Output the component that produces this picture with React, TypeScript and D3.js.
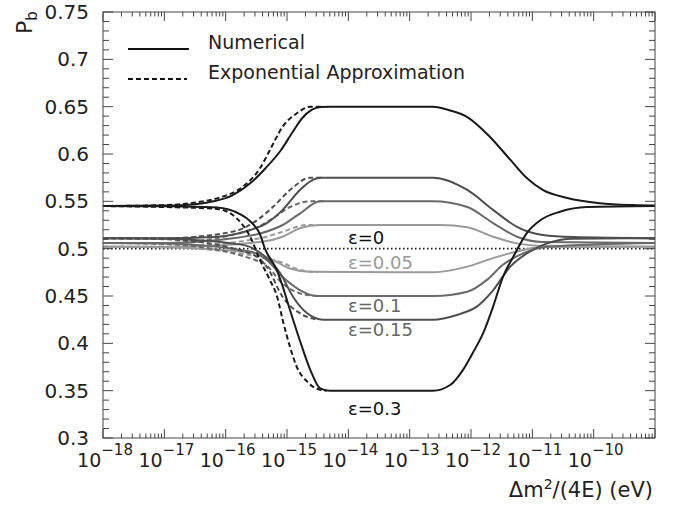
import * as d3 from "d3"

// x values are given as powers of ten (exponent), y is P_b
const blackUp = [[-18,0.545],[-17,0.5455],[-16.5,0.547],[-16.2,0.55],[-15.9,0.556],[-15.6,0.569],[-15.35,0.585],[-15.1,0.604],[-14.9,0.624],[-14.75,0.638],[-14.6,0.6465],[-14.45,0.6497],[-14.3,0.65],[-12.62,0.65],[-12.34,0.646],[-12.06,0.639],[-11.69,0.618],[-11.36,0.594],[-11.09,0.5746],[-10.83,0.562],[-10.43,0.5535],[-9.9,0.548],[-9.36,0.546],[-9,0.5455]]
const blackUpDash = [[-18,0.545],[-17,0.546],[-16.42,0.5495],[-16.1,0.554],[-15.72,0.5655],[-15.44,0.585],[-15.28,0.604],[-15.07,0.629],[-14.84,0.643],[-14.62,0.65],[-14.4,0.65]]
const blackLo = [[-18,0.545],[-17,0.5448],[-16.14,0.5435],[-15.77,0.5365],[-15.6,0.529],[-15.44,0.515],[-15.36,0.5],[-15.17,0.478],[-15.07,0.46],[-14.95,0.435],[-14.79,0.403],[-14.62,0.372],[-14.46,0.3525],[-14.3,0.35],[-12.62,0.35],[-12.34,0.356],[-12.13,0.372],[-11.97,0.39],[-11.8,0.411],[-11.64,0.4387],[-11.48,0.47],[-11.31,0.4915],[-11.09,0.5165],[-10.87,0.53],[-10.55,0.539],[-10.11,0.544],[-9,0.545]]
const blackLoDash = [[-18,0.545],[-17,0.544],[-16.14,0.542],[-15.82,0.532],[-15.6,0.5126],[-15.44,0.488],[-15.28,0.467],[-15.16,0.449],[-15.07,0.4246],[-14.95,0.396],[-14.84,0.375],[-14.67,0.3595],[-14.51,0.352],[-14.35,0.35]]

const g15Up = [[-18,0.511],[-17,0.511],[-16.14,0.5126],[-15.6,0.5197],[-15.33,0.527],[-15.07,0.541],[-14.79,0.562],[-14.6,0.572],[-14.46,0.575],[-12.62,0.575],[-12.06,0.562],[-11.64,0.541],[-11.25,0.523],[-10.83,0.5144],[-10.34,0.5122],[-9,0.511]]
const g15UpDash = [[-18,0.511],[-17,0.511],[-15.88,0.518],[-15.49,0.53],[-15.23,0.544],[-14.95,0.562],[-14.62,0.575],[-14.4,0.575]]
const g15Lo = [[-18,0.511],[-17,0.5105],[-15.72,0.504],[-15.39,0.4933],[-15.11,0.474],[-14.9,0.449],[-14.67,0.4317],[-14.41,0.425],[-12.62,0.425],[-12.23,0.43],[-11.9,0.439],[-11.64,0.456],[-11.36,0.481],[-11.09,0.495],[-10.76,0.5056],[-10.34,0.5105],[-9,0.511]]
const g15LoDash = [[-18,0.511],[-17,0.51],[-15.6,0.495],[-15.33,0.481],[-15.07,0.449],[-14.74,0.43],[-14.5,0.425]]

const g10Up = [[-18,0.506],[-17,0.506],[-15.88,0.511],[-15.44,0.516],[-15.07,0.525],[-14.79,0.537],[-14.46,0.55],[-12.62,0.55],[-12.06,0.544],[-11.64,0.527],[-11.25,0.5126],[-10.83,0.507],[-9,0.506]]
const g10UpDash = [[-18,0.506],[-17,0.506],[-15.6,0.5197],[-15.23,0.532],[-14.95,0.544],[-14.62,0.55],[-14.4,0.55]]
const g10Lo = [[-18,0.506],[-17,0.5055],[-15.6,0.497],[-15.33,0.488],[-15.07,0.47],[-14.79,0.4563],[-14.51,0.45],[-12.62,0.45],[-12.06,0.4545],[-11.74,0.467],[-11.48,0.483],[-11.15,0.495],[-10.76,0.502],[-9,0.506]]
const g10LoDash = [[-18,0.506],[-17,0.505],[-15.39,0.485],[-15.07,0.463],[-14.67,0.451],[-14.45,0.45]]

const g05Up = [[-18,0.502],[-17,0.502],[-15.44,0.507],[-15.07,0.5126],[-14.79,0.5215],[-14.46,0.525],[-12.5,0.525],[-12.06,0.5226],[-11.64,0.5126],[-11.25,0.5056],[-10.8,0.503],[-9,0.502]]
const g05UpDash = [[-18,0.502],[-17,0.502],[-15.44,0.511],[-15.07,0.518],[-14.67,0.525],[-14.45,0.525]]
const g05Lo = [[-18,0.502],[-17,0.5015],[-15.49,0.495],[-15.23,0.488],[-14.95,0.479],[-14.62,0.4755],[-12.62,0.475],[-12.06,0.481],[-11.64,0.49],[-11.25,0.497],[-10.87,0.5015],[-9,0.502]]
const g05LoDash = [[-18,0.502],[-17,0.5015],[-15.16,0.487],[-14.79,0.4775],[-14.5,0.475]]

const curves = [
  { pts: g05Up, color: "#9a9a9a", dash: false }, { pts: g05Lo, color: "#9a9a9a", dash: false },
  { pts: g05UpDash, color: "#9a9a9a", dash: true }, { pts: g05LoDash, color: "#9a9a9a", dash: true },
  { pts: g10Up, color: "#6a6a6a", dash: false }, { pts: g10Lo, color: "#6a6a6a", dash: false },
  { pts: g10UpDash, color: "#6a6a6a", dash: true }, { pts: g10LoDash, color: "#6a6a6a", dash: true },
  { pts: g15Up, color: "#4e4e4e", dash: false }, { pts: g15Lo, color: "#4e4e4e", dash: false },
  { pts: g15UpDash, color: "#4e4e4e", dash: true }, { pts: g15LoDash, color: "#4e4e4e", dash: true },
  { pts: blackUp, color: "#1a1a1a", dash: false }, { pts: blackLo, color: "#1a1a1a", dash: false },
  { pts: blackUpDash, color: "#1a1a1a", dash: true }, { pts: blackLoDash, color: "#1a1a1a", dash: true },
]

const epsLabels = ["ε=0", "ε=0.05", "ε=0.1", "ε=0.15", "ε=0.3"]
const epsLabelY = [0.505, 0.479, 0.433, 0.408, 0.324]
const epsLabelColor = ["#111", "#999", "#666", "#666", "#111"]
const legendLabels = ["Numerical", "Exponential Approximation"]

const font = "DejaVu Sans, sans-serif"

export default function App() {
  const width = 673
  const height = 510
  const left = 103, right = 655, top = 12, bottom = 438

  const x = d3.scaleLog().domain([1e-18, 1e-9]).range([left, right])
  const y = d3.scaleLinear().domain([0.3, 0.75]).range([bottom, top])

  const line = d3.line<number[]>()
    .x(d => x(Math.pow(10, d[0])))
    .y(d => y(d[1]))
    .curve(d3.curveMonotoneX)

  const xticks = x.ticks()
  const isMajor = (t: number) => Math.abs(Math.log10(t) - Math.round(Math.log10(t))) < 1e-6
  const yMinor = y.ticks(45)
  const yMajor = y.ticks(9)

  return (
    <svg width={width} height={height} style={{ position: "absolute", left: 0, top: 0, background: "#fff" }} fontFamily={font}>
      <rect x={0} y={0} width={width} height={height} fill="#fff" />
      <defs>
        <clipPath id="plot"><rect x={left} y={top} width={right - left} height={bottom - top} /></clipPath>
      </defs>

      {/* epsilon = 0 dotted line */}
      <line x1={left} x2={right} y1={y(0.5)} y2={y(0.5)} stroke="#111" strokeWidth={1.6} strokeDasharray="1.5,2.5" />

      <g clipPath="url(#plot)" fill="none">
        {curves.map((c, i) => (
          <path key={i} d={line(c.pts) || ""} stroke={c.color} strokeWidth={2}
            strokeDasharray={c.dash ? "5,3" : undefined} />
        ))}
      </g>

      {/* frame */}
      <rect x={left} y={top} width={right - left} height={bottom - top} fill="none" stroke="#444" strokeWidth={1} />

      {/* x ticks bottom + top */}
      {xticks.map((t, i) => {
        const len = isMajor(t) ? 9 : 4.5
        const px = x(t)
        return (
          <g key={i} stroke="#444" strokeWidth={1}>
            <line x1={px} x2={px} y1={bottom} y2={bottom - len} />
            <line x1={px} x2={px} y1={top} y2={top + len} />
          </g>
        )
      })}
      {/* y ticks left + right */}
      {yMinor.map((t, i) => {
        const major = yMajor.some(m => Math.abs(m - t) < 1e-9)
        const len = major ? 10 : 6
        return (
          <g key={i} stroke="#444" strokeWidth={1}>
            <line x1={left} x2={left + len} y1={y(t)} y2={y(t)} />
            <line x1={right} x2={right - len} y1={y(t)} y2={y(t)} />
          </g>
        )
      })}

      {/* y tick labels */}
      {yMajor.map((t, i) => (
        <text key={i} x={89} y={y(t) + 7} textAnchor="end" fontSize={20} fill="#222">{String(+t.toFixed(2))}</text>
      ))}

      {/* x tick labels */}
      {xticks.filter(isMajor).filter(t => t < 9e-10).map((t, i) => (
        <text key={i} x={x(t) + 2} y={467} textAnchor="middle" fontSize={19} fill="#222">
          <tspan>10</tspan>
          <tspan dy={-12} fontSize={15}>{"\u2212" + Math.abs(Math.round(Math.log10(t)))}</tspan>
        </text>
      ))}

      {/* axis titles */}
      <text x={653} y={497} textAnchor="end" fontSize={21} fill="#222">
        Δm<tspan dy={-8} fontSize={14}>2</tspan><tspan dy={8}>/(4E) (eV)</tspan>
      </text>
      <text transform="translate(32,34) rotate(-90)" fontSize={22} fill="#222">
        P<tspan dy={5} fontSize={15}>b</tspan>
      </text>

      {/* legend */}
      <line x1={128} x2={189} y1={49} y2={49} stroke="#111" strokeWidth={2} />
      <line x1={128} x2={187} y1={79} y2={79} stroke="#111" strokeWidth={2} strokeDasharray="5,3" />
      <text x={208} y={49} fontSize={19} fill="#222">{legendLabels[0]}</text>
      <text x={208} y={79} fontSize={19} fill="#222">{legendLabels[1]}</text>

      {/* epsilon labels */}
      {epsLabels.map((s, i) => (
        <text key={i} x={348} y={y(epsLabelY[i])} fontSize={18} fill={epsLabelColor[i]}>{s}</text>
      ))}
    </svg>
  )
}
